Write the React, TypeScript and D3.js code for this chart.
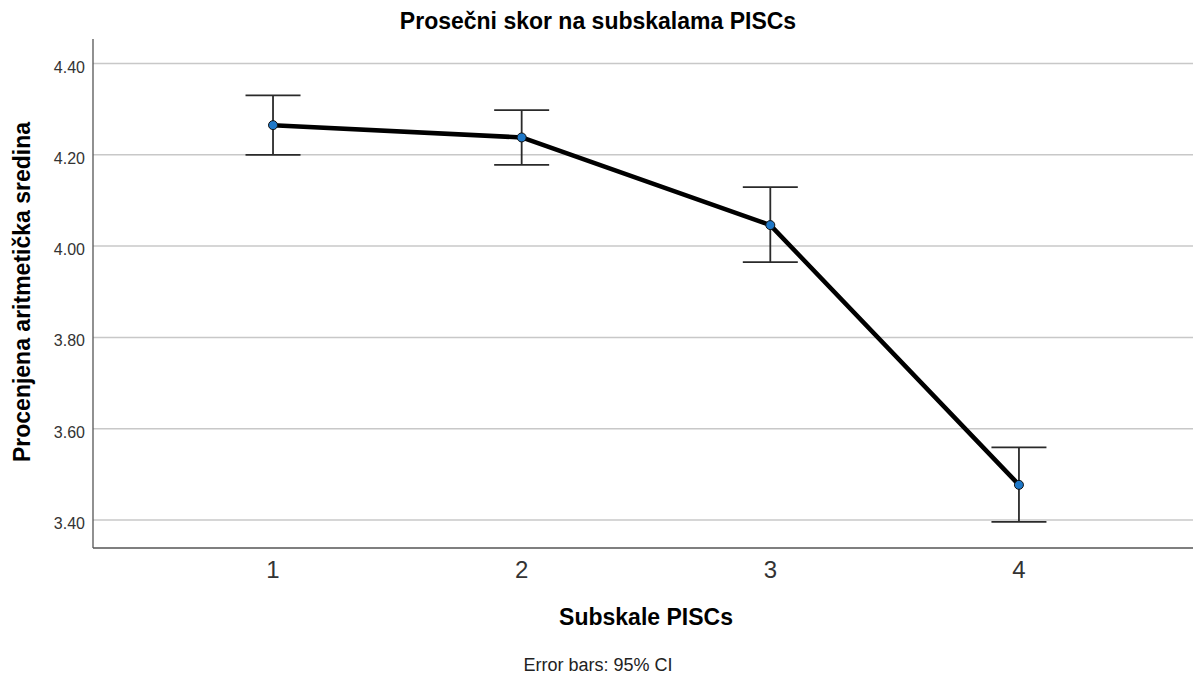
import React from "react";
import * as d3 from "d3";

const categories = [1, 2, 3, 4];
const means = [4.265, 4.238, 4.046, 3.477];
const ciLow = [4.2, 4.178, 3.965, 3.396];
const ciHigh = [4.33, 4.298, 4.129, 3.559];
const yTicks = [3.4, 3.6, 3.8, 4.0, 4.2, 4.4];

const W = 1193;
const H = 674;
const FONT = "'Liberation Sans', Arial, sans-serif";

export default function App() {
  const x = d3.scaleLinear().domain([0.276, 4.7]).range([93, 1193]);
  const y = d3.scaleLinear().domain([3.4, 4.4]).range([520, 63.5]);
  const yTop = 39;
  const yBot = 548;
  const line = d3
    .line<number>()
    .x((_, i) => x(categories[i]))
    .y((d) => y(d));
  const cap = 27.5;

  return (
    <svg
      width={W}
      height={H}
      style={{ position: "absolute", left: 0, top: 0, background: "#fff" }}
      fontFamily={FONT}
    >
      <rect x={0} y={0} width={W} height={H} fill="#fff" />
      <text x={598} y={29} textAnchor="middle" fontSize={23} fontWeight="bold" fill="#000">
        Prosečni skor na subskalama PISCs
      </text>
      {yTicks.map((t) => (
        <g key={t}>
          <line x1={93} x2={W} y1={y(t)} y2={y(t)} stroke="#c8c8c8" strokeWidth={1.5} />
          <text x={85} y={y(t) + 9} textAnchor="end" fontSize={16} fill="#333">
            {d3.format(".2f")(t)}
          </text>
        </g>
      ))}
      <line x1={93} x2={93} y1={yTop} y2={yBot} stroke="#555" strokeWidth={1.3} />
      <line x1={93} x2={W} y1={yBot} y2={yBot} stroke="#555" strokeWidth={1.3} />
      {categories.map((c) => (
        <text key={c} x={x(c)} y={578} textAnchor="middle" fontSize={24} fill="#333">
          {c}
        </text>
      ))}
      {categories.map((c, i) => (
        <g key={"e" + c} stroke="#2a2a2a" strokeWidth={1.8}>
          <line x1={x(c)} x2={x(c)} y1={y(ciHigh[i])} y2={y(ciLow[i])} />
          <line x1={x(c) - cap} x2={x(c) + cap} y1={y(ciHigh[i])} y2={y(ciHigh[i])} />
          <line x1={x(c) - cap} x2={x(c) + cap} y1={y(ciLow[i])} y2={y(ciLow[i])} />
        </g>
      ))}
      <path d={line(means) || ""} fill="none" stroke="#000" strokeWidth={4.5} strokeLinejoin="round" />
      {categories.map((c, i) => (
        <circle key={"p" + c} cx={x(c)} cy={y(means[i])} r={4.5} fill="#1f78c8" stroke="#111" strokeWidth={1} />
      ))}
      <text
        transform={`translate(30,${292}) rotate(-90)`}
        textAnchor="middle"
        fontSize={23}
        fontWeight="bold"
        fill="#000"
      >
        Procenjena aritmetička sredina
      </text>
      <text x={646} y={625} textAnchor="middle" fontSize={23} fontWeight="bold" fill="#000">
        Subskale PISCs
      </text>
      <text x={598} y={671} textAnchor="middle" fontSize={18} fill="#222">
        Error bars: 95% CI
      </text>
    </svg>
  );
}
